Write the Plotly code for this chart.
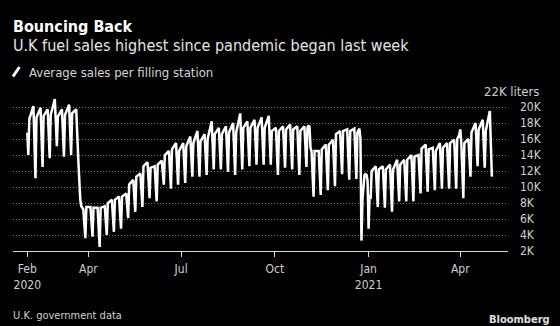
import pandas as pd
import plotly.graph_objects as go

# ---------------- data (thousand liters per filling station) ----------------
week_start = "2020-02-03"          # first Monday; one row per week below
mon_sales = [18.5, 18.7, 18.9, 19.0, 18.8, 19.0, 19.2, 9.7, 7.5, 7.4,
             7.4, 8.0, 8.4, 8.8, 10.3, 11.3, 12.6, 12.4, 12.8, 14.0,
             14.7, 14.5, 15.1, 15.5, 15.7, 16.0, 16.6, 16.6, 16.8, 16.8,
             17.4, 17.4, 17.4, 17.4, 17.0, 17.0, 17.2, 17.2, 17.0, 17.4,
             14.5, 14.7, 15.3, 16.6, 17.0, 17.0, 16.8, 11.5, 12.0, 12.2,
             12.2, 12.2, 12.8, 13.4, 13.8, 14.8, 14.7, 14.5, 14.9, 15.5,
             16.0, 15.5, 16.8, 17.2, 17.0]
fri_sales = [20.1, 19.9, 19.7, 21.0, 19.7, 20.3, 19.7, 7.2, 7.5, 7.4,
             7.6, 8.4, 8.8, 9.2, 10.9, 11.7, 13.1, 12.6, 13.3, 14.5,
             15.5, 15.5, 16.3, 17.0, 16.6, 18.2, 17.4, 17.6, 18.0, 19.2,
             18.2, 18.4, 18.7, 18.9, 17.4, 17.6, 17.8, 17.6, 17.6, 14.5,
             14.5, 15.3, 15.9, 17.0, 17.2, 17.3, 3.3, 4.8, 12.6, 12.6,
             12.8, 13.4, 13.4, 14.0, 14.0, 15.3, 14.9, 15.5, 15.5, 15.9,
             15.5, 16.0, 18.0, 18.4, 19.5]
sun_sales = [11.1, 12.5, 13.6, 15.1, 13.8, 14.0, 13.6, 3.6, 3.8, 2.5,
             4.0, 4.4, 4.8, 6.1, 6.9, 7.5, 8.6, 8.2, 10.3, 9.8,
             10.3, 10.5, 11.3, 11.3, 11.5, 12.2, 12.2, 11.9, 11.5, 12.2,
             12.6, 12.8, 12.8, 12.8, 11.5, 12.4, 12.2, 11.5, 12.5, 8.8,
             9.0, 9.6, 10.1, 11.6, 10.9, 11.0, 10.8, 8.5, 7.5, 7.4,
             6.9, 8.2, 8.2, 8.2, 9.2, 9.4, 9.6, 9.8, 9.8, 9.8,
             8.6, 11.3, 12.6, 12.4, 11.3]
extra_dates = ["2020-02-01", "2020-02-02", "2020-03-24", "2020-03-25",
               "2020-11-03", "2020-11-04", "2020-11-05",
               "2020-12-22", "2020-12-23", "2020-12-24", "2020-12-26",
               "2020-12-29", "2020-12-30", "2020-12-31", "2021-01-02",
               "2021-03-31", "2021-04-01"]
extra_sales = [16.8, 14.0, 8.4, 7.6,
               17.7, 17.5, 14.9,
               17.0, 17.3, 16.0, 8.5,
               11.6, 11.5, 10.8, 9.0,
               16.5, 17.2]

y_ticks = [2, 4, 6, 8, 10, 12, 14, 16, 18, 20, 22]
y_labels = ["2K", "4K", "6K", "8K", "10K", "12K", "14K", "16K", "18K", "20K", ""]
x_ticks = ["2020-02-01", "2020-04-01", "2020-07-01", "2020-10-01",
           "2021-01-01", "2021-04-01"]
x_labels = ["Feb<br>2020", "Apr", "Jul", "Oct", "Jan<br>2021", "Apr"]

# ---------------- assemble series ----------------
points = {}
mondays = pd.date_range(week_start, periods=len(mon_sales), freq="7D")
for m, a, b, c in zip(mondays, mon_sales, fri_sales, sun_sales):
    points[m] = a
    points[m + pd.Timedelta(days=4)] = b
    points[m + pd.Timedelta(days=6)] = c
for d, v in zip(extra_dates, extra_sales):
    points[pd.Timestamp(d)] = v
series = pd.Series(points).sort_index()

FONT = "DejaVu Sans Condensed, DejaVu Sans, sans-serif"
W, H = 560, 326
L, R, T, B = 13, 508, 91, 251


def px(x):
    return (x - L) / (R - L)


def py(y):
    return (B - y) / (B - T)


fig = go.Figure()
fig.add_trace(go.Scatter(x=series.index, y=series.values, mode="lines",
                         line=dict(color="#ffffff", width=2.5),
                         hoverinfo="skip"))

fig.update_layout(
    width=W, height=H,
    paper_bgcolor="#000000", plot_bgcolor="#000000",
    margin=dict(l=L, r=W - R, t=T, b=H - B, pad=0),
    showlegend=False,
    font=dict(family=FONT, color="#d0d0d0", size=12),
    xaxis=dict(type="date", range=["2020-01-17 23:00", "2021-05-17 20:00"],
               tickvals=x_ticks, ticktext=x_labels,
               showgrid=False, zeroline=False,
               showline=True, linecolor="#d9d9d9", linewidth=1,
               ticks="outside", ticklen=5, tickcolor="#d9d9d9",
               ticklabelstandoff=2,
               tickfont=dict(family=FONT, size=12, color="#d0d0d0")),
    yaxis=dict(side="right", range=[2, 22], tickvals=y_ticks, ticktext=y_labels,
               showgrid=True, gridcolor="#7a7a7a", griddash="1px,2px", gridwidth=1,
               zeroline=False, showline=False, ticks="",
               ticklabelstandoff=11,
               tickfont=dict(family=FONT, size=12, color="#d0d0d0")),
)

ann = [
    dict(text="<b>Bouncing Back</b>", x=px(12), y=py(26.2), size=16, color="#ffffff", xa="left"),
    dict(text="U.K fuel sales highest since pandemic began last week", x=px(12), y=py(45.2),
         size=16, color="#e6e6e6", xa="left"),
    dict(text="Average sales per filling station", x=px(28), y=py(72), size=13,
         color="#d6d6d6", xa="left"),
    dict(text="22K liters", x=px(540), y=py(91), size=13, color="#d0d0d0", xa="right"),
    dict(text="U.K. government data", x=px(12), y=py(315.5), size=11, color="#d0d0d0", xa="left"),
    dict(text="<b>Bloomberg</b>", x=px(551), y=py(319.5), size=11, color="#e0e0e0", xa="right"),
]
for a in ann:
    fig.add_annotation(text=a["text"], x=a["x"], y=a["y"], xref="paper", yref="paper",
                       xanchor=a["xa"], yanchor="middle", showarrow=False, borderpad=0,
                       font=dict(family=FONT, size=a["size"], color=a["color"]))

fig.add_shape(type="line", xref="paper", yref="paper",
              x0=px(13), y0=py(76.5), x1=px(19.5), y1=py(67),
              line=dict(color="#ffffff", width=3))

fig.write_html("out.html", config={"displayModeBar": False})
